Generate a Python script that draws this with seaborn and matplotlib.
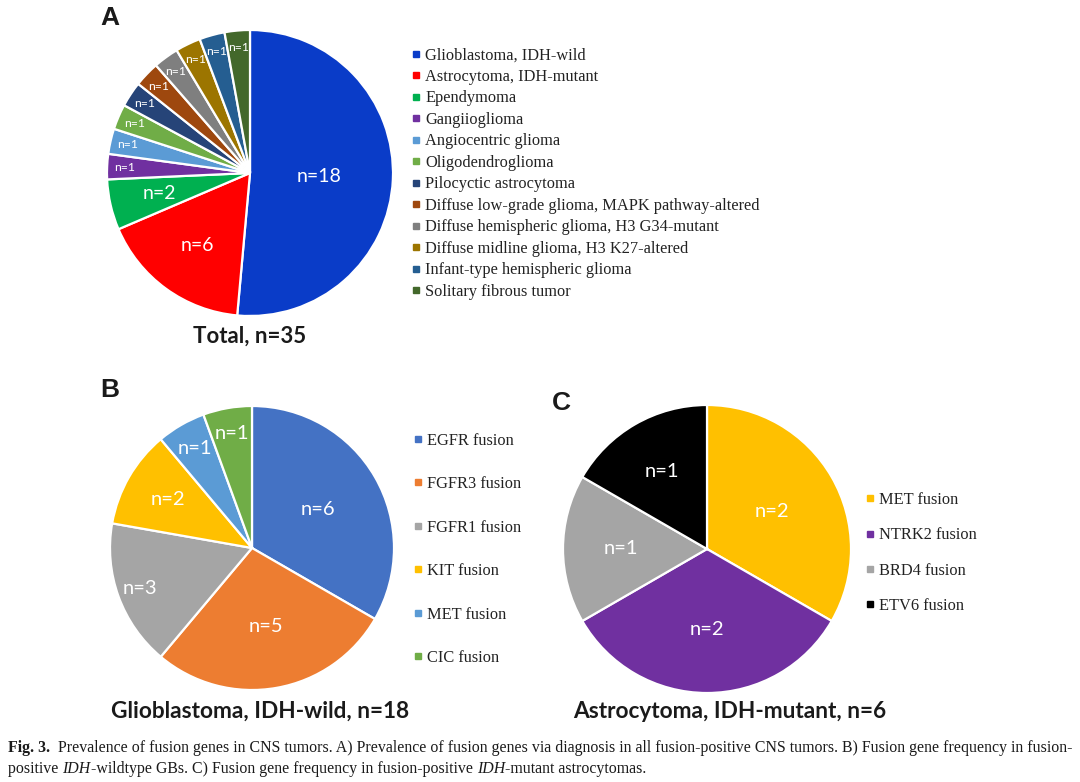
import matplotlib
matplotlib.use("Agg")
import matplotlib.pyplot as plt
import seaborn as sns
import numpy as np
from matplotlib.lines import Line2D

sns.set_theme(style="white")
plt.rcParams['font.family'] = ['Lato', 'DejaVu Sans']

# ---------------- data ----------------
a_labels = ["Glioblastoma, IDH-wild", "Astrocytoma, IDH-mutant", "Ependymoma",
            "Gangiioglioma", "Angiocentric glioma", "Oligodendroglioma",
            "Pilocyctic astrocytoma", "Diffuse low-grade glioma, MAPK pathway-altered",
            "Diffuse hemispheric glioma, H3 G34-mutant",
            "Diffuse midline glioma, H3 K27-altered",
            "Infant-type hemispheric glioma", "Solitary fibrous tumor"]
a_values = [18, 6, 2, 1, 1, 1, 1, 1, 1, 1, 1, 1]
a_colors = ["#0A3CC8", "#FF0000", "#00B050", "#7030A0", "#5B9BD5", "#70AD47",
            "#264478", "#9E480E", "#7F7F7F", "#9C7500", "#255E91", "#43682B"]
a_title = "Total, n=35"

b_labels = ["EGFR fusion", "FGFR3 fusion", "FGFR1 fusion", "KIT fusion",
            "MET fusion", "CIC fusion"]
b_values = [6, 5, 3, 2, 1, 1]
b_colors = ["#4472C4", "#ED7D31", "#A5A5A5", "#FFC000", "#5B9BD5", "#70AD47"]
b_title = "Glioblastoma, IDH-wild, n=18"

c_labels = ["MET fusion", "NTRK2 fusion", "BRD4 fusion", "ETV6 fusion"]
c_values = [2, 2, 1, 1]
c_colors = ["#FFC000", "#7030A0", "#A5A5A5", "#000000"]
c_title = "Astrocytoma, IDH-mutant, n=6"

# label radial distances (style)
a_dist = [0.48, 0.63, 0.65] + [0.88] * 9
a_fs = [14, 14, 14] + [8.8] * 9
b_dist = [0.54, 0.56, 0.84, 0.68, 0.81, 0.82]
c_dist = [0.52, 0.56, 0.60, 0.62]

W, H = 1080, 782
fig = plt.figure(figsize=(W / 100, H / 100), dpi=100)
fig.patch.set_facecolor("white")

PAD = 1.03


def pie_axes(cx, cy, r):
    s = r * PAD
    ax = fig.add_axes([(cx - s) / W, (H - cy - s) / H, 2 * s / W, 2 * s / H])
    ax.set_xlim(-PAD, PAD)
    ax.set_ylim(-PAD, PAD)
    ax.set_aspect("equal")
    ax.axis("off")
    return ax


def draw_pie(ax, values, colors, dists, fss):
    wedges, _ = ax.pie(values, colors=colors, startangle=90, counterclock=False,
                       radius=1.0, frame=True,
                       wedgeprops=dict(edgecolor="white", linewidth=1.6))
    ax.set_xlim(-PAD, PAD)
    ax.set_ylim(-PAD, PAD)
    ax.axis("off")
    for w, v, d, fs in zip(wedges, values, dists, fss):
        ang = np.deg2rad((w.theta1 + w.theta2) / 2)
        ax.text(d * np.cos(ang), d * np.sin(ang), f"n={v}", color="white",
                ha="center", va="center", fontsize=fs)
    return wedges


axA = pie_axes(250, 173, 143)
draw_pie(axA, a_values, a_colors, a_dist, a_fs)
axB = pie_axes(252, 548, 142)
draw_pie(axB, b_values, b_colors, b_dist, [14.5] * len(b_values))
axC = pie_axes(707, 549, 144)
draw_pie(axC, c_values, c_colors, c_dist, [14.5] * len(c_values))

# titles
fig.text(250 / W, 1 - 336 / H, a_title, ha="center", va="center",
         fontsize=16, fontweight="bold", color="#1a1a1a")
fig.text(260 / W, 1 - 711 / H, b_title, ha="center", va="center",
         fontsize=16.3, fontweight="bold", color="#1a1a1a")
fig.text(730 / W, 1 - 711 / H, c_title, ha="center", va="center",
         fontsize=16.3, fontweight="bold", color="#1a1a1a")

# panel letters
for lab, x, y in [("A", 110, 18), ("B", 110, 390), ("C", 561, 403)]:
    fig.text(x / W, 1 - y / H, lab, ha="center", va="center", fontsize=19,
             fontweight="bold", color="#1a1a1a", family=["Liberation Sans"])


def legend(labels, colors, x, ytop, spacing):
    handles = [Line2D([0], [0], marker="s", linestyle="none", markersize=4.8,
                      markerfacecolor=c, markeredgecolor=c) for c in colors]
    leg = fig.legend(handles, labels, loc="upper left",
                     bbox_to_anchor=(x / W, 1 - ytop / H), frameon=False,
                     handlelength=0.5, handletextpad=0.3, borderpad=0,
                     borderaxespad=0, labelspacing=spacing,
                     prop=dict(family="Liberation Serif", size=11.8))
    for t in leg.get_texts():
        t.set_color("#222222")
    return leg


legend(a_labels, a_colors, 412, 47.5, 0.335)
legend(b_labels, b_colors, 414, 432.5, 1.68)
legend(c_labels, c_colors, 866, 492, 1.18)

# caption
fig.canvas.draw()
renderer = fig.canvas.get_renderer()


def run_text(x, y, parts, size=11.45):
    for txt, kw in parts:
        t = fig.text(x / W, 1 - y / H, txt, ha="left", va="center", fontsize=size,
                     family="Liberation Serif", color="#1a1a1a", **kw)
        bb = t.get_window_extent(renderer)
        x += bb.width


cap1 = [("Fig. 3.", dict(fontweight="bold")),
        ("  Prevalence of fusion genes in CNS tumors. A) Prevalence of fusion genes via diagnosis in all fusion-positive CNS tumors. B) Fusion gene frequency in fusion-", {})]
cap2 = [("positive ", {}), ("IDH", dict(style="italic")),
        ("-wildtype GBs. C) Fusion gene frequency in fusion-positive ", {}),
        ("IDH", dict(style="italic")), ("-mutant astrocytomas.", {})]
run_text(8, 748, cap1)
run_text(8, 769, cap2)

fig.savefig("out.png", dpi=100, facecolor="white")
